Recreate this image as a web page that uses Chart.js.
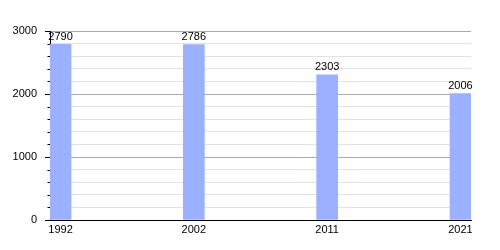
<!DOCTYPE html>
<html>
<head>
<meta charset="utf-8">
<script src="https://cdn.jsdelivr.net/npm/chart.js@4/dist/chart.umd.min.js"></script>
<style>
html,body{margin:0;padding:0;background:#fff;}
#wrap{width:500px;height:250px;position:relative;}
</style>
</head>
<body>
<div id="wrap"><canvas id="c" width="500" height="250"></canvas></div>
<script>
const years = ['1992', '2002', '2011', '2021'];
const population = [2790, 2786, 2303, 2006];
const yTicks = [0, 1000, 2000, 3000];

const points = population.map((v, i) => ({x: i, y: v}));

const valueLabels = {
  id: 'valueLabels',
  afterDatasetsDraw(chart) {
    const ctx = chart.ctx;
    const meta = chart.getDatasetMeta(0);
    ctx.save();
    ctx.font = '11px "Liberation Sans", Arial, sans-serif';
    ctx.fillStyle = '#000';
    ctx.textAlign = 'center';
    ctx.textBaseline = 'bottom';
    meta.data.forEach((bar, i) => {
      ctx.fillText(String(population[i]), bar.x, bar.y - 2);
    });
    ctx.restore();
  }
};

const minorTicks = {
  id: 'minorTicks',
  afterDraw(chart) {
    const ys = chart.scales.y;
    const ctx = chart.ctx;
    ctx.save();
    ctx.strokeStyle = '#000';
    ctx.lineWidth = 1;
    ys.ticks.forEach(t => {
      if (t.value % 1000 !== 0) {
        const py = Math.round(ys.getPixelForValue(t.value)) + 0.5;
        ctx.beginPath();
        ctx.moveTo(ys.right - 2.5, py);
        ctx.lineTo(ys.right, py);
        ctx.stroke();
      }
    });
    ctx.restore();
  }
};

new Chart(document.getElementById('c'), {
  type: 'bar',
  data: {
    datasets: [{
      data: points,
      backgroundColor: 'rgb(155,176,255)',
      borderWidth: 0,
      barThickness: 21
    }]
  },
  options: {
    responsive: false,
    animation: false,
    events: [],
    layout: {padding: {left: 12, right: 29, top: 31, bottom: 0}},
    plugins: {legend: {display: false}, tooltip: {enabled: false}},
    scales: {
      x: {
        type: 'linear',
        offset: false,
        min: -0.079,
        max: 3.079,
        afterBuildTicks(scale) {
          scale.ticks = years.map((y, i) => ({value: i}));
        },
        afterFit(scale) { scale.height = 30; },
        grid: {display: false, drawTicks: false, offset: false},
        border: {display: true, color: '#000', width: 1},
        ticks: {
          padding: 3,
          autoSkip: false,
          maxRotation: 0,
          color: '#000',
          font: {family: '"Liberation Sans", Arial, sans-serif', size: 11},
          callback: (v) => years[v]
        }
      },
      y: {
        min: 0,
        max: 3000,
        afterBuildTicks(scale) {
          const t = [];
          for (let v = 0; v <= 3000; v += 200) t.push({value: v});
          scale.ticks = t;
        },
        afterFit(scale) { scale.width = 38; },
        border: {display: true, color: '#000', width: 1},
        grid: {
          drawTicks: true,
          tickLength: 5,
          color: (c) => (c.tick && c.tick.value % 1000 === 0) ? '#aaaaaa' : '#e2e2e2',
          tickColor: (c) => (c.tick && c.tick.value % 1000 === 0) ? '#000' : 'rgba(0,0,0,0)'
        },
        ticks: {
          padding: 8,
          autoSkip: false,
          color: '#000',
          font: {family: '"Liberation Sans", Arial, sans-serif', size: 11},
          callback: (v) => yTicks.includes(v) ? String(v) : ''
        }
      }
    }
  },
  plugins: [valueLabels, minorTicks]
});
</script>
</body>
</html>
